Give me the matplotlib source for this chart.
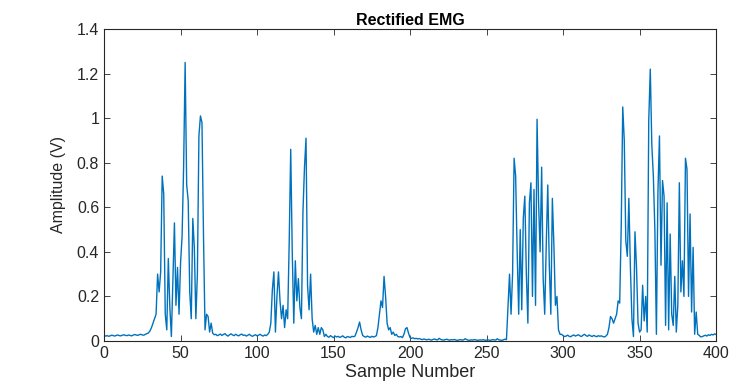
import numpy as np
import matplotlib
matplotlib.use("Agg")
import matplotlib.pyplot as plt

# Rectified EMG amplitude (V)
rest_start = [0.025, 0.022, 0.024, 0.021, 0.023, 0.026, 0.024, 0.022, 0.025, 0.027,
              0.024, 0.023, 0.026, 0.028, 0.025, 0.024, 0.027, 0.025, 0.023, 0.026,
              0.029, 0.027, 0.025, 0.028, 0.030, 0.027, 0.026, 0.030, 0.033, 0.036]
burst1 = [0.045, 0.06, 0.08, 0.10, 0.12, 0.30, 0.22, 0.31, 0.74, 0.66,
          0.12, 0.05, 0.37, 0.15, 0.02, 0.28, 0.53, 0.16, 0.33, 0.12,
          0.35, 0.47, 0.78, 1.25, 0.70, 0.63, 0.22, 0.10, 0.55, 0.42,
          0.10, 0.30, 0.92, 1.01, 0.98, 0.47, 0.05, 0.12, 0.11, 0.04, 0.08]
rest2 = [0.035, 0.028, 0.030, 0.024, 0.027, 0.031, 0.025, 0.029, 0.033, 0.026,
         0.022, 0.028, 0.032, 0.027, 0.024, 0.030, 0.026, 0.023, 0.028, 0.031,
         0.025, 0.027, 0.022, 0.026, 0.030, 0.024, 0.021, 0.025, 0.028, 0.023,
         0.026, 0.030, 0.025, 0.022, 0.027, 0.024, 0.030]
burst2 = [0.04, 0.08, 0.23, 0.31, 0.04, 0.20, 0.31, 0.18, 0.10, 0.16,
          0.06, 0.14, 0.10, 0.44, 0.86, 0.40, 0.08, 0.36, 0.18, 0.28,
          0.15, 0.10, 0.58, 0.78, 0.91, 0.25, 0.14, 0.30, 0.10, 0.04,
          0.07, 0.03, 0.06, 0.03, 0.06, 0.05, 0.02, 0.03]
rest3 = [0.020, 0.017, 0.024, 0.019, 0.015, 0.022, 0.018, 0.021, 0.016, 0.019,
         0.023, 0.017, 0.014, 0.020, 0.018, 0.016, 0.021, 0.019, 0.022, 0.040,
         0.060, 0.085, 0.050, 0.025, 0.020, 0.017, 0.022, 0.019, 0.016, 0.021,
         0.018, 0.020, 0.024]
burst3 = [0.06, 0.12, 0.18, 0.15, 0.29, 0.20, 0.08, 0.05, 0.06, 0.03,
          0.04, 0.025, 0.03, 0.02]
rest4 = [0.018, 0.020, 0.015, 0.030, 0.055, 0.060, 0.035, 0.015, 0.012, 0.014,
         0.010, 0.012, 0.009, 0.011,
         0.008, 0.006, 0.009, 0.007, 0.005, 0.008, 0.006, 0.004, 0.007, 0.009,
         0.006, 0.005, 0.012, 0.007, 0.005, 0.004, 0.006, 0.008, 0.005, 0.004,
         0.006, 0.005, 0.007, 0.004, 0.003, 0.005, 0.006, 0.004, 0.005, 0.010,
         0.006, 0.004, 0.003, 0.005, 0.004, 0.006, 0.005, 0.003, 0.004, 0.005,
         0.004, 0.006, 0.003, 0.004, 0.005, 0.003, 0.004, 0.006, 0.005, 0.004,
         0.010, 0.005, 0.004, 0.003, 0.005, 0.008, 0.006]
burst4 = [0.15, 0.30, 0.12, 0.30, 0.82, 0.74, 0.40, 0.12, 0.50, 0.14,
          0.55, 0.65, 0.30, 0.08, 0.62, 0.71, 0.20, 0.68, 0.16, 0.995,
          0.62, 0.40, 0.78, 0.28, 0.12, 0.43, 0.70, 0.34, 0.12, 0.64,
          0.43, 0.16, 0.20, 0.05, 0.03]
rest5 = [0.030, 0.024, 0.020, 0.022, 0.026, 0.021, 0.019, 0.024, 0.027, 0.022,
         0.025, 0.028, 0.023, 0.020, 0.026, 0.030, 0.024, 0.021, 0.027, 0.023,
         0.020, 0.025, 0.022, 0.019, 0.024, 0.021, 0.023, 0.020, 0.018, 0.022]
burst5 = [0.03, 0.06, 0.11, 0.10, 0.08, 0.10, 0.12, 0.18, 0.17, 0.51,
          1.05, 0.90, 0.45, 0.38, 0.64, 0.33, 0.10, 0.02, 0.49, 0.33,
          0.08, 0.04, 0.05, 0.25, 0.09, 0.20, 0.04, 0.99, 1.22, 0.88,
          0.74, 0.50, 0.03, 0.67, 0.92, 0.34, 0.72, 0.65, 0.07, 0.62,
          0.05, 0.48, 0.12, 0.07, 0.29, 0.04, 0.16, 0.71, 0.22, 0.36,
          0.20, 0.82, 0.77, 0.20, 0.57, 0.13, 0.42, 0.03, 0.13, 0.03]
rest_end = [0.025, 0.018, 0.020, 0.023, 0.026, 0.022, 0.028, 0.025, 0.030, 0.027,
            0.032, 0.029]

emg = np.concatenate([rest_start, burst1, rest2, burst2, rest3, burst3,
                      rest4, burst4, rest5, burst5, rest_end])
samples = np.arange(len(emg))

xTicks = [0, 50, 100, 150, 200, 250, 300, 350, 400]
yTicks = [0, 0.2, 0.4, 0.6, 0.8, 1, 1.2, 1.4]

plt.rcParams['font.family'] = ['Liberation Sans', 'DejaVu Sans']
axisColor = '#262626'
lineColor = '#0072BD'

fig = plt.figure(figsize=(7.54, 3.83), dpi=100)
ax = fig.add_axes([0.138, 0.1097, 0.8117, 0.8146])

ax.plot(samples, emg, color=lineColor, linewidth=1.0)

ax.set_xlim(0, 400)
ax.set_ylim(0, 1.4)
ax.set_xticks(xTicks)
ax.set_xticklabels([str(t) for t in xTicks])
ax.set_yticks(yTicks)
ax.set_yticklabels(['0', '0.2', '0.4', '0.6', '0.8', '1', '1.2', '1.4'])
ax.tick_params(direction='in', length=4, width=0.6, colors=axisColor,
               labelsize=11.5, top=True, right=True)
for spine in ax.spines.values():
    spine.set_color(axisColor)
    spine.set_linewidth(0.8)

ax.set_title('Rectified EMG', fontsize=11.5, fontweight='bold', pad=3)
ax.set_xlabel('Sample Number', fontsize=13, color=axisColor, labelpad=2)
ax.set_ylabel('Amplitude (V)', fontsize=11.5, color=axisColor, labelpad=8)

fig.savefig('out.png', dpi=100)
